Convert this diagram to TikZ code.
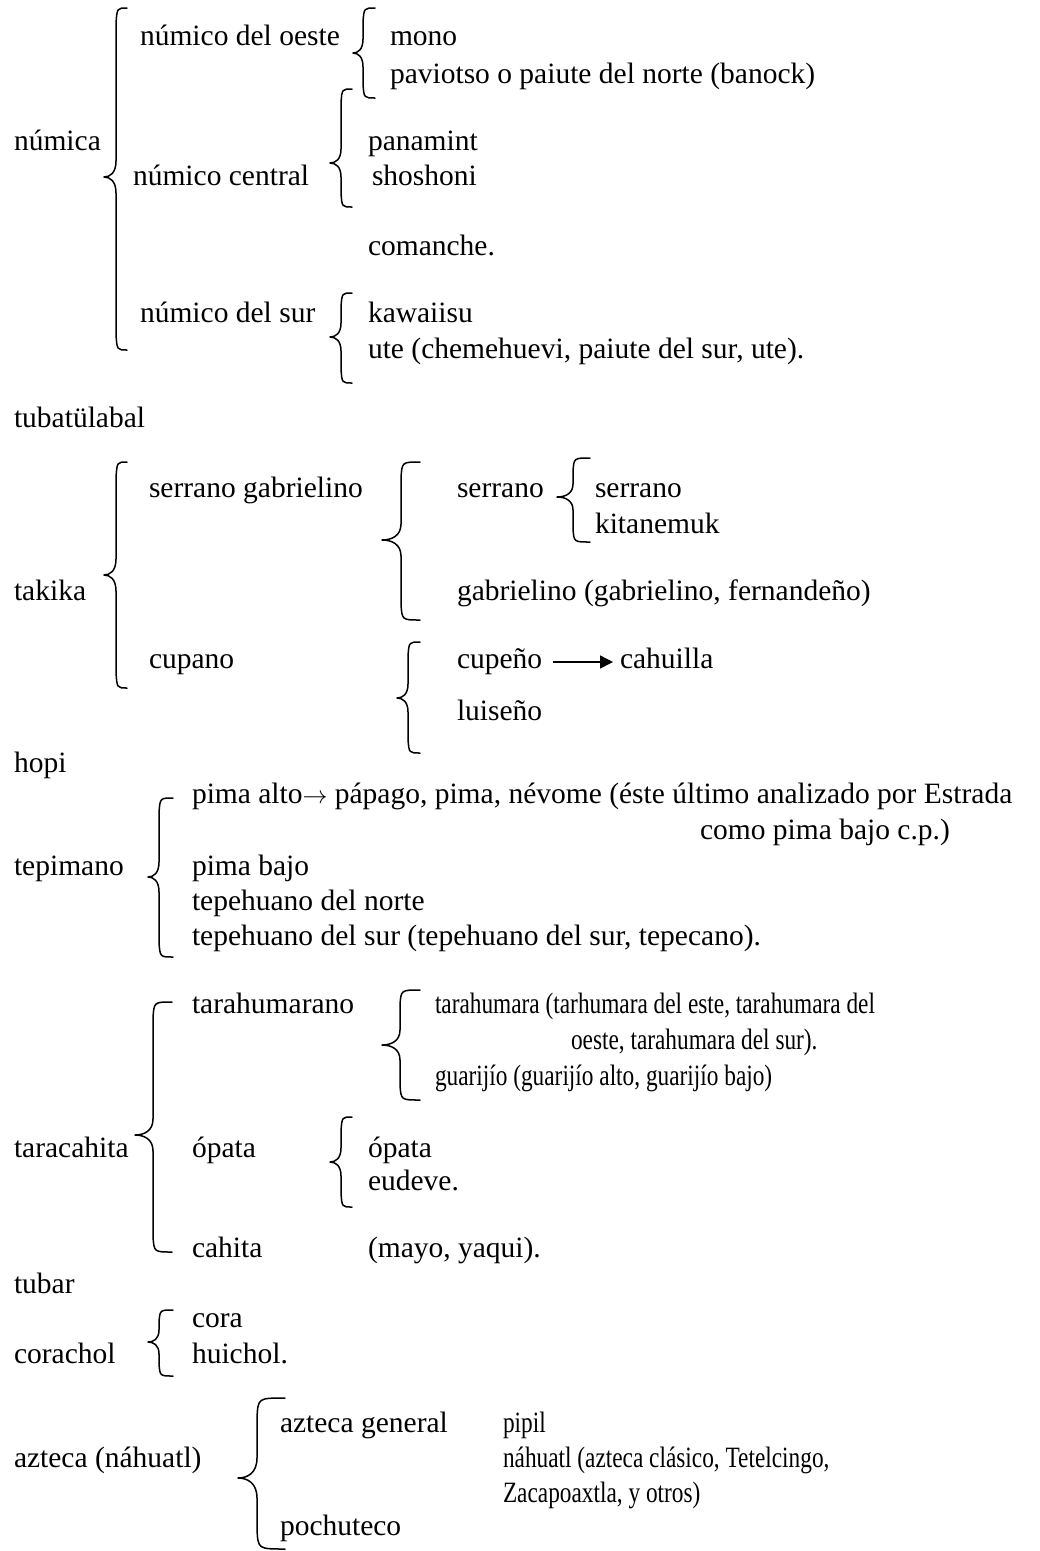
\documentclass[tikz,border=0pt]{standalone}
\usepackage{fontspec}
\setmainfont{Liberation Serif}
\newfontfamily\narrowfont[FakeStretch=0.79]{Liberation Serif}
\usetikzlibrary{arrows.meta}
% tipx, spinex, endx, top, mid, bottom, curl
\newcommand\wbrace[7]{%
  \draw[bracepath] (#3,#4) .. controls (#2+1,#4) .. (#2,#4+#7) -- (#2,#5-#7)
    .. controls (#2,#5-#7*0.25) and (#1+#2*0.5-#1*0.5,#5) .. (#1,#5)
    .. controls (#1+#2*0.5-#1*0.5,#5) and (#2,#5+#7*0.25) .. (#2,#5+#7)
    -- (#2,#6-#7) .. controls (#2+1,#6) .. (#3,#6);}
\begin{document}
\begin{tikzpicture}[x=1pt,y=-1pt,
  font=\fontsize{29.5}{35}\selectfont,
  t/.style={anchor=base west,inner sep=0pt,outer sep=0pt},
  n/.style={t,font=\fontsize{29.5}{35}\selectfont\narrowfont},
  bracepath/.style={line width=1.5pt,line join=round,line cap=round},
  arr/.style={line width=1.4pt,-{Triangle[length=13pt,width=13pt]}}]
\useasboundingbox[fill=white] (0,0) rectangle (1040,1551);

% numica
\node[t] (numica) at (14,150) {númica};
\node[t] (oeste) at (140,45) {númico del oeste};
\node[t] (mono) at (390,45) {mono};
\node[t] (paviotso) at (390,83) {paviotso o paiute del norte (banock)};
\node[t] (central) at (133,185) {númico central};
\node[t] (panamint) at (368,150) {panamint};
\node[t] (shoshoni) at (372,185) {shoshoni};
\node[t] (comanche) at (368,255) {comanche.};
\node[t] (sur) at (140,322) {númico del sur};
\node[t] (kawaiisu) at (368,322) {kawaiisu};
\node[t] (ute) at (368,358) {ute (chemehuevi, paiute del sur, ute).};
\node[t] (tubatulabal) at (14,427) {tubatülabal};
\wbrace{104}{116}{127}{8}{177}{350}{16}
\wbrace{353}{363}{375}{8}{53}{98}{14}
\wbrace{330}{341}{352}{89}{163}{207}{14}
\wbrace{330}{341}{352}{293}{337}{383}{14}

% takika
\node[t] (takika) at (14,600) {takika};
\node[t] (sg) at (149,497) {serrano gabrielino};
\node[t] (cupano) at (149,668) {cupano};
\node[t] (serranoB) at (457,497) {serrano};
\node[t] (serranoC) at (595,497) {serrano};
\node[t] (kitanemuk) at (595,533) {kitanemuk};
\node[t] (gabrielino) at (457,600) {gabrielino (gabrielino, fernandeño)};
\node[t] (cupeno) at (457,668) {cupeño};
\node[t] (cahuilla) at (620,668) {cahuilla};
\node[t] (luiseno) at (457,720) {luiseño};
\node[t] (hopi) at (14,772) {hopi};
\wbrace{104}{116}{127}{462}{575}{688}{16}
\wbrace{382}{401}{420}{462}{540}{620}{16}
\wbrace{557}{573}{590}{458}{497}{542}{13}
\wbrace{397}{408}{420}{642}{698}{753}{14}
\draw[arr] ([xshift=11pt,yshift=6pt]cupeno.base east) -- ([xshift=-7pt,yshift=6pt]cahuilla.base west);

% tepimano
\node[t] (pimaalto) at (192,803) {pima alto$\rightarrow$ pápago, pima, névome (éste último analizado por Estrada};
\node[t] (como) at (700,839) {como pima bajo c.p.)};
\node[t] (tepimano) at (14,875) {tepimano};
\node[t] (pimabajo) at (192,875) {pima bajo};
\node[t] (tepnorte) at (192,910) {tepehuano del norte};
\node[t] (tepsur) at (192,945) {tepehuano del sur (tepehuano del sur, tepecano).};
\wbrace{148}{159}{173}{798}{877}{957}{15}

% taracahita
\node[t] (tarahumarano) at (192,1013) {tarahumarano};
\node[n] (tarahumara) at (435,1013) {tarahumara (tarhumara del este, tarahumara del};
\node[n] (oesteB) at (571,1049) {oeste, tarahumara del sur).};
\node[n] (guarijio) at (435,1085) {guarijío (guarijío alto, guarijío bajo)};
\node[t] (taracahita) at (14,1157) {taracahita};
\node[t] (opata) at (192,1157) {ópata};
\node[t] (opataB) at (368,1157) {ópata};
\node[t] (eudeve) at (368,1190) {eudeve.};
\node[t] (cahita) at (192,1257) {cahita};
\node[t] (mayo) at (368,1257) {(mayo, yaqui).};
\node[t] (tubar) at (14,1293) {tubar};
\wbrace{135}{153}{172}{1002}{1135}{1252}{16}
\wbrace{382}{400}{420}{990}{1045}{1100}{15}
\wbrace{330}{341}{352}{1117}{1162}{1207}{14}

% corachol
\node[t] (cora) at (192,1327) {cora};
\node[t] (corachol) at (14,1363) {corachol};
\node[t] (huichol) at (192,1363) {huichol.};
\wbrace{148}{159}{173}{1310}{1342}{1376}{12}

% azteca
\node[t] (aztecagen) at (280,1432) {azteca general};
\node[n] (pipil) at (503,1432) {pipil};
\node[t] (azteca) at (14,1467) {azteca (náhuatl)};
\node[n] (nahuatl) at (503,1467) {náhuatl (azteca clásico, Tetelcingo,};
\node[n] (zacapo) at (503,1502) {Zacapoaxtla, y otros)};
\node[t] (pochuteco) at (280,1535) {pochuteco};
\wbrace{238}{257}{285}{1398}{1478}{1549}{20}
\end{tikzpicture}
\end{document}
